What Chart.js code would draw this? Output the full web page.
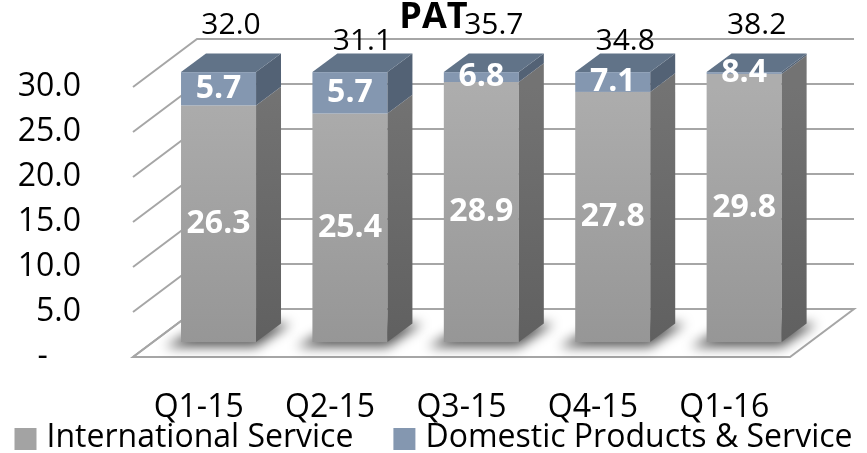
<!DOCTYPE html>
<html>
<head>
<meta charset="utf-8">
<script src="https://cdn.jsdelivr.net/npm/chart.js@4.4.0/dist/chart.umd.min.js"></script>
<style>
    html, body { margin: 0; padding: 0; background: #fff; }
    #wrap { width: 867px; height: 453px; }
</style>
</head>
<body>
<div id="wrap"><canvas id="patChart"></canvas></div>
<script>
const categories = ['Q1-15', 'Q2-15', 'Q3-15', 'Q4-15', 'Q1-16'];
const internationalService = [26.3, 25.4, 28.9, 27.8, 29.8];
const domesticProducts = [5.7, 5.7, 6.8, 7.1, 8.4];
const totalLabels = ['32.0', '31.1', '35.7', '34.8', '38.2'];
const yMin = 0, yMax = 30, yStep = 5;

const FONT = "'Open Sans', sans-serif";
// 3D look: floor depth vector and where the bars sit inside it
const depth = { x: 64, y: -48 };
const barFront = 0.31, barBack = 0.70;

const colors = {
    grid: '#a6a6a6',
    grayTop: '#adadad', grayBottom: '#959595',
    graySideTop: '#737373', graySideBottom: '#5f5f5f',
    blue: '#8497b0', blueSide: '#536275', blueTop: '#617388'
};

function yFor(scale, v) {
    return scale.getPixelForValue(Math.max(yMin, Math.min(yMax, v)));
}

const threeD = {
    id: 'threeD',
    beforeDatasetsDraw(chart) {
        const { ctx, chartArea: a, scales: { x, y } } = chart;
        const y0 = y.getPixelForValue(0);
        ctx.save();

        // floor
        ctx.beginPath();
        ctx.moveTo(a.left, y0);
        ctx.lineTo(a.right, y0);
        ctx.lineTo(a.right + depth.x, y0 + depth.y);
        ctx.lineTo(a.left + depth.x, y0 + depth.y);
        ctx.closePath();
        ctx.fillStyle = '#fff';
        ctx.fill();
        ctx.strokeStyle = colors.grid;
        ctx.lineWidth = 2;
        ctx.stroke();

        // back wall gridlines + left wall diagonals
        for (let v = yMin; v <= yMax; v += yStep) {
            const py = y.getPixelForValue(v);
            ctx.beginPath();
            ctx.moveTo(a.left, py);
            ctx.lineTo(a.left + depth.x, py + depth.y);
            ctx.lineTo(a.right + depth.x, py + depth.y);
            ctx.stroke();
        }

        const fx = depth.x * barFront, fy = depth.y * barFront;
        const bx = depth.x * barBack, by = depth.y * barBack;

        const frontGrad = ctx.createLinearGradient(0, y.getPixelForValue(yMax), 0, y0);
        frontGrad.addColorStop(0, colors.grayTop);
        frontGrad.addColorStop(1, colors.grayBottom);
        const sideGrad = ctx.createLinearGradient(0, y.getPixelForValue(yMax), 0, y0);
        sideGrad.addColorStop(0, colors.graySideTop);
        sideGrad.addColorStop(1, colors.graySideBottom);
        const faces = [
            { front: frontGrad, side: sideGrad, top: '#9a9a9a' },
            { front: colors.blue, side: colors.blueSide, top: colors.blueTop }
        ];

        const metas = chart.data.datasets.map((d, i) => chart.getDatasetMeta(i));
        const labels = [];

        categories.forEach((cat, j) => {
            const bar = metas[0].data[j];
            const left = bar.x - bar.width / 2;
            const right = bar.x + bar.width / 2;

            // soft shadow on the floor
            ctx.save();
            ctx.filter = 'blur(6px)';
            ctx.fillStyle = 'rgba(0,0,0,0.65)';
            ctx.beginPath();
            ctx.moveTo(left + fx - 16, y0 + fy + 5);
            ctx.lineTo(right + fx, y0 + fy + 5);
            ctx.lineTo(right + bx + 10, y0 + by);
            ctx.lineTo(left + bx, y0 + by);
            ctx.closePath();
            ctx.fill();
            ctx.restore();

            let base = 0;
            const segs = [];
            chart.data.datasets.forEach((ds, i) => {
                const v = ds.data[j];
                const yb = yFor(y, base), yt = yFor(y, base + v);
                if (yb - yt > 0.01) segs.push({ i, yb, yt, v });
                base += v;
            });

            segs.forEach((s, k) => {
                const f = faces[s.i];
                ctx.fillStyle = f.front;
                ctx.fillRect(left + fx, s.yt + fy, right - left, s.yb - s.yt);

                ctx.beginPath();
                ctx.moveTo(right + fx, s.yt + fy);
                ctx.lineTo(right + bx, s.yt + by);
                ctx.lineTo(right + bx, s.yb + by);
                ctx.lineTo(right + fx, s.yb + fy);
                ctx.closePath();
                ctx.fillStyle = f.side;
                ctx.fill();

                if (k === segs.length - 1) {
                    ctx.beginPath();
                    ctx.moveTo(left + fx, s.yt + fy);
                    ctx.lineTo(left + bx, s.yt + by);
                    ctx.lineTo(right + bx, s.yt + by);
                    ctx.lineTo(right + fx, s.yt + fy);
                    ctx.closePath();
                    ctx.fillStyle = f.top;
                    ctx.fill();
                }
                labels.push({ x: bar.x + fx, y: (s.yt + s.yb) / 2 + fy, text: s.v.toFixed(1) });
            });

            // totals above each bar
            const topBack = yFor(y, base) + by;
            ctx.font = '30px ' + FONT;
            ctx.fillStyle = '#000';
            ctx.textAlign = 'center';
            ctx.textBaseline = 'middle';
            ctx.fillText(totalLabels[j], bar.x + (fx + bx) / 2, topBack - (j % 2 ? 12 : 28));
        });

        ctx.font = 'bold 32px ' + FONT;
        ctx.fillStyle = '#fff';
        ctx.textAlign = 'center';
        ctx.textBaseline = 'middle';
        labels.forEach(l => ctx.fillText(l.text, l.x, l.y));

        ctx.restore();
        return false;
    },
    afterDraw(chart) {
        // legend along the bottom
        const { ctx } = chart;
        const items = chart.data.datasets.map(ds => ({ text: ds.label, color: ds.backgroundColor }));
        ctx.save();
        ctx.font = '32px ' + FONT;
        const box = 22, gap = 10, spacing = 40;
        const widths = items.map(it => box + gap + ctx.measureText(it.text).width);
        const total = widths.reduce((s, w) => s + w, 0) + spacing * (items.length - 1);
        let px = (chart.width - total) / 2;
        const cy = 438;
        ctx.textBaseline = 'middle';
        ctx.textAlign = 'left';
        items.forEach((it, i) => {
            ctx.fillStyle = it.color;
            ctx.fillRect(px, cy - box / 2 + 1, box, box);
            ctx.fillStyle = '#000';
            ctx.fillText(it.text, px + box + gap, cy);
            px += widths[i] + spacing;
        });
        ctx.restore();
    }
};

new Chart(document.getElementById('patChart'), {
    type: 'bar',
    data: {
        labels: categories,
        datasets: [{
            label: 'International Service',
            data: internationalService,
            backgroundColor: '#a3a3a3'
        }, {
            label: 'Domestic Products & Service',
            data: domesticProducts,
            backgroundColor: colors.blue
        }]
    },
    options: {
        responsive: true,
        maintainAspectRatio: false,
        animation: false,
        layout: { padding: 0 },
        datasets: { bar: { barPercentage: 0.571, categoryPercentage: 1 } },
        scales: {
            x: {
                stacked: true,
                grid: { display: false },
                border: { display: false },
                ticks: { color: '#000', font: { family: FONT, size: 32 }, padding: 24 },
                afterFit(scale) { scale.height = 96; }
            },
            y: {
                stacked: true,
                min: yMin,
                max: yMax,
                grid: { display: false },
                border: { display: false },
                ticks: {
                    stepSize: yStep,
                    color: '#000',
                    font: { family: FONT, size: 32 },
                    padding: 44,
                    callback: v => v === 0 ? '-    ' : v.toFixed(1)
                },
                afterFit(scale) { scale.width = 133; }
            },
            // empty right-hand axis that only reserves room for the 3D depth
            depthRoom: {
                type: 'linear',
                position: 'right',
                grid: { display: false },
                border: { display: false },
                ticks: { display: false },
                afterFit(scale) { scale.width = 77; }
            }
        },
        plugins: {
            legend: { display: false },
            tooltip: { enabled: false },
            title: {
                display: true,
                text: 'PAT',
                color: '#000',
                font: { family: FONT, size: 36, weight: 'bold', lineHeight: 1.0 },
                padding: { top: 0, bottom: 51 }
            }
        }
    },
    plugins: [threeD]
});
</script>
</body>
</html>
